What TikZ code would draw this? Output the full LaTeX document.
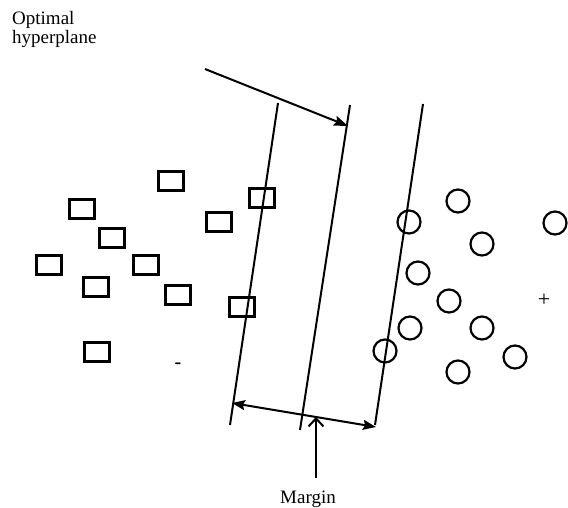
\documentclass[tikz,border=0pt]{standalone}
\usepackage{fontspec}
\setmainfont{Liberation Serif}
\usetikzlibrary{arrows.meta}
\begin{document}
\begin{tikzpicture}[x=1pt,y=-1pt,
  negbox/.style={draw,line width=2.4pt,minimum width=25pt,minimum height=19pt,inner sep=0pt},
  posdot/.style={draw,circle,line width=2.2pt,minimum size=23pt,inner sep=0pt},
  plane/.style={line width=2pt},
  lbl/.style={font=\fontsize{19}{19}\selectfont,inner sep=0pt},
  head/.style={Stealth[length=13pt,width=10pt,inset=2pt]}]
\useasboundingbox (0,0) rectangle (568,508);

% separating hyperplanes
\coordinate (l1) at (278,103); \coordinate (l2) at (230,425);
\coordinate (m1) at (350,105); \coordinate (m2) at (300,430);
\coordinate (r1) at (423,104); \coordinate (r2) at (375,425);
\draw[plane] (l1) -- (l2);
\draw[plane] (m1) -- (m2);
\draw[plane] (r1) -- (r2);

% negative class
\foreach \n/\p in {a/{(171,181)},b/{(82,209)},c/{(112,238)},d/{(49,265)},e/{(146,265)},
  f/{(96,287)},g/{(178,295)},h/{(219,222)},i/{(262,198)},j/{(242,307)},k/{(97,352)}}
  \node[negbox] (s\n) at \p {};
\node[lbl,font=\fontsize{20}{20}\selectfont\bfseries] (minus) at (178,366) {-};

% positive class
\foreach \n/\p in {a/{(458,201)},b/{(409,222)},c/{(555,223)},d/{(482,244)},e/{(418,273)},
  f/{(449,301)},g/{(410,328)},h/{(482,328)},i/{(385,351)},j/{(515,357)},k/{(458,372)}}
  \node[posdot] (c\n) at \p {};
\node[lbl,font=\fontsize{22}{22}\selectfont] (plus) at (544,300) {+};

% labels
\node[lbl,anchor=north west,align=left] (opt) at (12,11) {Optimal\\hyperplane};
\node[lbl,anchor=base] (margin) at (308,503) {Margin};

% arrows
\coordinate (hs) at (205,69);
\coordinate (ht) at (348,126);
\draw[plane,-{Stealth[length=14pt,width=10pt,inset=2pt]}] (hs) -- (ht);

\coordinate (ml) at (232,403);
\coordinate (mr) at (376,427);
\draw[plane,{Stealth[length=13pt,width=10pt,inset=2pt]}-{Stealth[length=13pt,width=10pt,inset=2pt]}] (ml) -- (mr);

\coordinate (mb) at (316,478);
\coordinate (mt) at (316,417);
\draw[plane,-{Straight Barb[length=8pt,width=15pt]}] (mb) -- (mt);
\end{tikzpicture}
\end{document}
